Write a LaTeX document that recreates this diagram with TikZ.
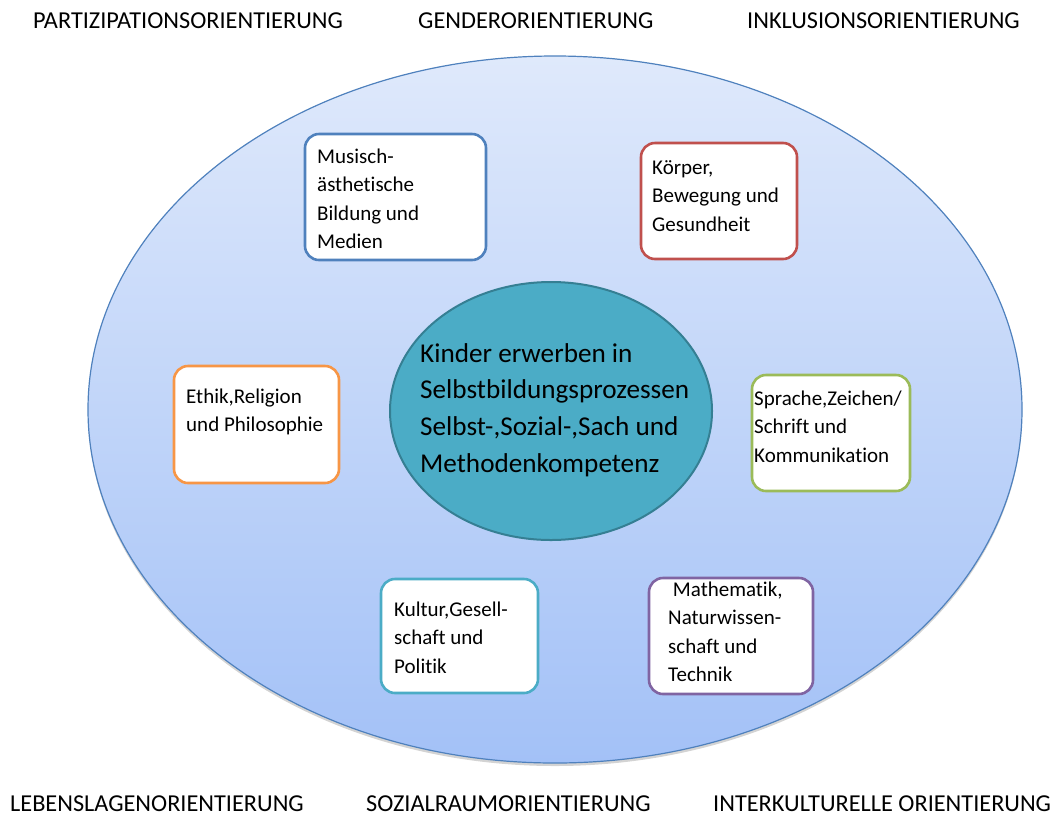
\documentclass[tikz,border=0pt]{standalone}
\usepackage{fontspec}
\setmainfont{Carlito}[RawFeature={-liga;-clig}]
\usetikzlibrary{shapes.geometric,shadows}
\definecolor{outerborder}{HTML}{4F81BD}
\definecolor{outertop}{HTML}{DFE9FB}
\definecolor{outerbot}{HTML}{A3C1F7}
\definecolor{centerfill}{HTML}{4BACC6}
\definecolor{centerborder}{HTML}{357F93}
\definecolor{cblue}{HTML}{4F81BD}
\definecolor{cred}{HTML}{C0504D}
\definecolor{corange}{HTML}{F79646}
\definecolor{cgreen}{HTML}{9BBB59}
\definecolor{cteal}{HTML}{4BACC6}
\definecolor{cpurple}{HTML}{8064A2}
\newcommand{\mylines}[1]{\begin{tabular}[t]{@{}l@{}}#1\end{tabular}}
\tikzset{
  areabox/.style={draw=#1, line width=2.6pt, rounded corners=14pt, fill=white, inner sep=0pt},
  areatext/.style={anchor=base west, inner sep=0pt, font=\fontsize{21}{28.3}\selectfont},
  orient/.style={anchor=base west, inner sep=0pt, font=\fontsize{24.3}{28}\selectfont},
}
\begin{document}
\begin{tikzpicture}[x=1pt,y=-1pt]
\useasboundingbox (0,0) rectangle (1054,815);
% outer ellipse
\node[ellipse, minimum width=934pt, minimum height=707pt, inner sep=0pt,
      draw=outerborder, line width=1.2pt, top color=outertop, bottom color=outerbot,
      drop shadow={opacity=0.35, shadow xshift=0pt, shadow yshift=-3pt}] (outer) at (555,409.5) {};
% center ellipse
\node[ellipse, minimum width=322pt, minimum height=258pt, inner sep=0pt,
      draw=centerborder, line width=2pt, fill=centerfill] (core) at (551,411) {};
\node[anchor=base west, inner sep=0pt, font=\fontsize{27.2}{36.7}\selectfont] (coretext) at (420,362)
  {\mylines{Kinder erwerben in\\Selbstbildungsprozessen\\Selbst-,Sozial-,Sach und\\Methodenkompetenz}};
% area boxes
\node[areabox=cblue, minimum width=181pt, minimum height=126pt] (musik) at (395.5,197) {};
\node[areatext] (musikt) at (317,163.5) {\mylines{Musisch-\\ästhetische\\Bildung und\\Medien}};
\node[areabox=cred, minimum width=156pt, minimum height=116pt] (koerper) at (719,201) {};
\node[areatext] (koerpert) at (652,174.5) {\mylines{Körper,\\Bewegung und\\Gesundheit}};
\node[areabox=corange, minimum width=165pt, minimum height=117pt] (ethik) at (256.5,424.5) {};
\node[areatext] (ethikt) at (186,403.5) {\mylines{Ethik,Religion\\und Philosophie}};
\node[areabox=cgreen, minimum width=158pt, minimum height=116pt] (sprache) at (831,433) {};
\node[areatext] (sprachet) at (754,405.5) {\mylines{Sprache,Zeichen/\\Schrift und\\Kommunikation}};
\node[areabox=cteal, minimum width=157pt, minimum height=114pt] (kultur) at (459.5,636) {};
\node[areatext] (kulturt) at (394,616.5) {\mylines{Kultur,Gesell-\\schaft und\\Politik}};
\node[areabox=cpurple, minimum width=164pt, minimum height=116pt] (mathe) at (731,636) {};
\node[areatext] (mathet) at (668,596.5) {\mylines{\ Mathematik,\\Naturwissen-\\schaft und\\Technik}};
% orientations
\node[orient] (partizipation) at (33,28) {PARTIZIPATIONSORIENTIERUNG};
\node[orient] (gender) at (418,28) {GENDERORIENTIERUNG};
\node[orient] (inklusion) at (747,28) {INKLUSIONSORIENTIERUNG};
\node[orient] (lebenslage) at (10,811) {LEBENSLAGENORIENTIERUNG};
\node[orient] (sozialraum) at (366,811) {SOZIALRAUMORIENTIERUNG};
\node[orient] (interkulturell) at (713,811) {INTERKULTURELLE ORIENTIERUNG};
\end{tikzpicture}
\end{document}
